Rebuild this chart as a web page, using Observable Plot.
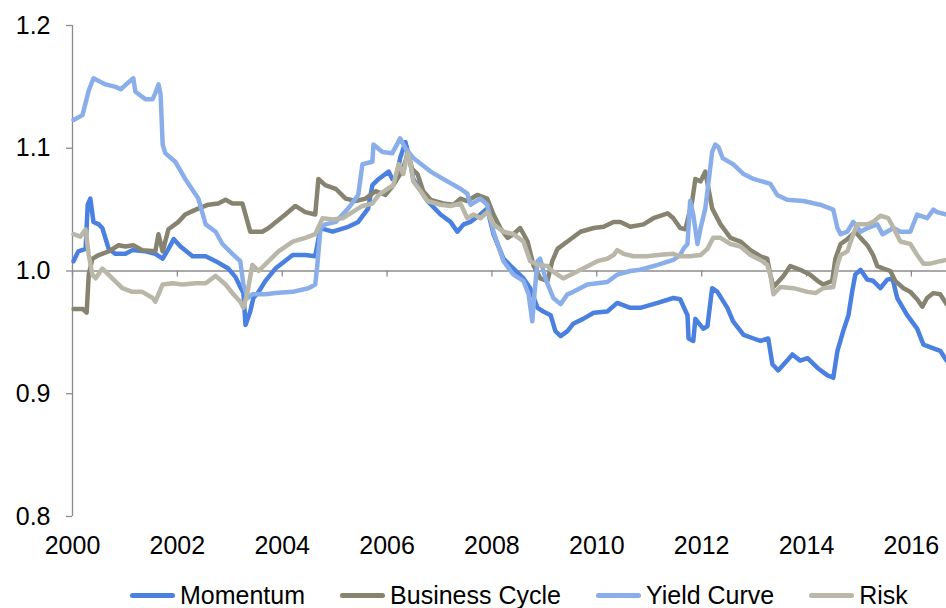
<!DOCTYPE html>
<html><head><meta charset="utf-8">
<script src="https://cdn.jsdelivr.net/npm/d3@7"></script>
<script src="https://cdn.jsdelivr.net/npm/@observablehq/plot@0.6"></script>
<style>
body{margin:0;background:#fff;font-family:"Liberation Sans",Arial,sans-serif;}
#legend{display:flex;align-items:center;height:36px;padding-left:130px;font-size:25px;color:#000;padding-top:5px;box-sizing:content-box}
.item{display:flex;align-items:center;margin-right:35px}
.sw{width:45px;height:5px;border-radius:3px;margin-right:5px}
</style></head><body><div id="chart"></div><div id="legend"></div>
<script>
const seriesNames = ["Momentum", "Business Cycle", "Yield Curve", "Risk"];
const seriesColors = ["#4a80e0", "#868470", "#8aaeea", "#b9b7a7"];
const xTicks = [2000, 2002, 2004, 2006, 2008, 2010, 2012, 2014, 2016];
const yTicks = [0.8, 0.9, 1.0, 1.1, 1.2];

const momentum = [[2000.02,1.008],[2000.11,1.016],[2000.25,1.018],[2000.29,1.054],[2000.34,1.059],[2000.40,1.040],[2000.50,1.038],[2000.57,1.035],[2000.69,1.018],[2000.82,1.014],[2001.01,1.014],[2001.14,1.017],[2001.39,1.016],[2001.58,1.014],[2001.72,1.010],[2001.83,1.018],[2001.93,1.026],[2002.06,1.020],[2002.29,1.012],[2002.54,1.012],[2002.73,1.008],[2002.97,1.002],[2003.11,0.995],[2003.20,0.987],[2003.26,0.982],[2003.30,0.956],[2003.39,0.967],[2003.45,0.978],[2003.55,0.983],[2003.68,0.992],[2003.87,1.002],[2004.20,1.013],[2004.44,1.013],[2004.63,1.012],[2004.73,1.035],[2004.96,1.032],[2005.26,1.036],[2005.45,1.040],[2005.64,1.051],[2005.72,1.070],[2005.84,1.075],[2006.03,1.081],[2006.10,1.075],[2006.16,1.073],[2006.25,1.092],[2006.35,1.105],[2006.41,1.095],[2006.50,1.075],[2006.77,1.057],[2007.02,1.046],[2007.21,1.040],[2007.34,1.032],[2007.46,1.038],[2007.59,1.040],[2007.78,1.046],[2007.91,1.051],[2008.03,1.030],[2008.22,1.010],[2008.41,1.002],[2008.60,0.994],[2008.73,0.986],[2008.87,0.970],[2008.98,0.967],[2009.12,0.964],[2009.21,0.951],[2009.31,0.947],[2009.44,0.951],[2009.55,0.957],[2009.74,0.961],[2009.94,0.966],[2010.20,0.967],[2010.39,0.974],[2010.64,0.970],[2010.83,0.970],[2011.16,0.974],[2011.46,0.978],[2011.59,0.977],[2011.73,0.964],[2011.75,0.945],[2011.84,0.943],[2011.88,0.961],[2012.03,0.953],[2012.11,0.955],[2012.20,0.986],[2012.30,0.983],[2012.49,0.970],[2012.60,0.959],[2012.80,0.948],[2012.99,0.945],[2013.12,0.943],[2013.27,0.945],[2013.35,0.924],[2013.46,0.919],[2013.63,0.927],[2013.73,0.932],[2013.88,0.927],[2014.02,0.929],[2014.21,0.921],[2014.40,0.915],[2014.51,0.913],[2014.59,0.935],[2014.70,0.951],[2014.80,0.964],[2014.87,0.983],[2014.93,0.997],[2015.03,1.001],[2015.16,0.993],[2015.27,0.992],[2015.41,0.986],[2015.54,0.993],[2015.64,0.994],[2015.73,0.978],[2015.92,0.964],[2016.11,0.953],[2016.23,0.940],[2016.42,0.937],[2016.55,0.935],[2016.67,0.927]];

const businessCycle = [[2000.02,0.969],[2000.20,0.969],[2000.27,0.966],[2000.31,0.997],[2000.38,1.010],[2000.50,1.013],[2000.69,1.016],[2000.88,1.021],[2001.01,1.020],[2001.16,1.021],[2001.33,1.017],[2001.58,1.016],[2001.64,1.030],[2001.72,1.016],[2001.83,1.034],[2002.02,1.040],[2002.15,1.046],[2002.35,1.050],[2002.59,1.054],[2002.78,1.055],[2002.92,1.058],[2003.05,1.055],[2003.24,1.055],[2003.30,1.046],[2003.39,1.032],[2003.62,1.032],[2003.74,1.035],[2004.06,1.046],[2004.25,1.053],[2004.44,1.048],[2004.63,1.046],[2004.69,1.075],[2004.82,1.070],[2005.02,1.067],[2005.21,1.059],[2005.40,1.057],[2005.59,1.059],[2005.78,1.065],[2005.97,1.062],[2006.12,1.070],[2006.25,1.079],[2006.35,1.089],[2006.39,1.097],[2006.48,1.083],[2006.58,1.079],[2006.69,1.065],[2006.83,1.058],[2007.07,1.055],[2007.27,1.054],[2007.40,1.059],[2007.53,1.057],[2007.72,1.062],[2007.91,1.059],[2008.03,1.046],[2008.16,1.035],[2008.30,1.027],[2008.41,1.030],[2008.54,1.035],[2008.68,1.024],[2008.79,1.005],[2008.92,0.994],[2009.06,0.992],[2009.15,1.008],[2009.25,1.018],[2009.44,1.024],[2009.69,1.032],[2009.94,1.035],[2010.13,1.036],[2010.32,1.040],[2010.45,1.040],[2010.64,1.036],[2010.89,1.038],[2011.08,1.043],[2011.35,1.047],[2011.46,1.043],[2011.59,1.035],[2011.69,1.034],[2011.82,1.057],[2011.88,1.075],[2011.98,1.073],[2012.07,1.081],[2012.13,1.067],[2012.20,1.051],[2012.36,1.038],[2012.55,1.027],[2012.74,1.024],[2012.93,1.017],[2013.12,1.012],[2013.25,1.010],[2013.31,0.997],[2013.37,0.987],[2013.56,0.996],[2013.69,1.004],[2013.88,1.001],[2014.07,0.997],[2014.21,0.992],[2014.32,0.989],[2014.49,0.992],[2014.55,1.010],[2014.65,1.022],[2014.78,1.026],[2014.93,1.032],[2015.03,1.027],[2015.16,1.021],[2015.27,1.013],[2015.35,1.004],[2015.47,1.002],[2015.60,1.000],[2015.69,0.992],[2015.85,0.986],[2015.98,0.983],[2016.11,0.977],[2016.21,0.971],[2016.30,0.978],[2016.42,0.982],[2016.55,0.981],[2016.67,0.973]];

const yieldCurve = [[2000.02,1.123],[2000.19,1.127],[2000.31,1.147],[2000.40,1.157],[2000.63,1.152],[2000.82,1.150],[2000.92,1.148],[2001.05,1.153],[2001.16,1.157],[2001.20,1.146],[2001.39,1.140],[2001.53,1.140],[2001.58,1.145],[2001.64,1.152],[2001.68,1.144],[2001.72,1.103],[2001.77,1.096],[2001.96,1.089],[2002.15,1.075],[2002.40,1.059],[2002.54,1.038],[2002.73,1.032],[2002.86,1.022],[2003.05,1.014],[2003.20,1.008],[2003.26,0.989],[2003.34,0.978],[2003.43,0.981],[2003.68,0.981],[2003.87,0.982],[2004.20,0.983],[2004.50,0.986],[2004.63,0.989],[2004.67,1.005],[2004.73,1.035],[2004.82,1.038],[2005.02,1.040],[2005.26,1.051],[2005.45,1.062],[2005.53,1.087],[2005.72,1.089],[2005.74,1.103],[2005.91,1.097],[2006.10,1.096],[2006.25,1.108],[2006.35,1.100],[2006.50,1.092],[2006.83,1.081],[2007.15,1.073],[2007.40,1.067],[2007.53,1.063],[2007.59,1.054],[2007.78,1.059],[2007.91,1.054],[2008.03,1.032],[2008.22,1.008],[2008.41,0.997],[2008.60,0.992],[2008.70,0.981],[2008.77,0.959],[2008.81,0.981],[2008.87,1.008],[2008.92,1.010],[2009.02,0.994],[2009.17,0.978],[2009.31,0.973],[2009.44,0.981],[2009.55,0.983],[2009.82,0.989],[2010.20,0.991],[2010.39,0.997],[2010.64,1.000],[2010.83,1.001],[2011.16,1.005],[2011.46,1.009],[2011.59,1.013],[2011.65,1.018],[2011.73,1.022],[2011.78,1.057],[2011.84,1.046],[2011.92,1.022],[2011.98,1.035],[2012.07,1.051],[2012.20,1.097],[2012.26,1.103],[2012.32,1.101],[2012.40,1.092],[2012.60,1.087],[2012.80,1.079],[2012.99,1.075],[2013.31,1.071],[2013.44,1.062],[2013.63,1.058],[2013.94,1.057],[2014.26,1.054],[2014.51,1.050],[2014.59,1.035],[2014.65,1.030],[2014.78,1.032],[2014.89,1.040],[2015.03,1.032],[2015.16,1.035],[2015.35,1.038],[2015.45,1.030],[2015.66,1.035],[2015.79,1.032],[2015.98,1.032],[2016.11,1.046],[2016.30,1.043],[2016.42,1.050],[2016.49,1.048],[2016.67,1.046]];

const risk = [[2000.02,1.030],[2000.15,1.028],[2000.25,1.034],[2000.31,1.013],[2000.38,0.997],[2000.44,0.994],[2000.57,1.002],[2000.76,0.994],[2000.95,0.986],[2001.14,0.983],[2001.33,0.983],[2001.53,0.978],[2001.58,0.975],[2001.72,0.989],[2001.91,0.990],[2002.10,0.989],[2002.35,0.990],[2002.54,0.990],[2002.73,0.996],[2002.92,0.989],[2003.07,0.981],[2003.20,0.975],[2003.26,0.970],[2003.34,0.983],[2003.43,1.005],[2003.55,1.000],[2003.74,1.008],[2003.93,1.016],[2004.20,1.024],[2004.44,1.027],[2004.63,1.030],[2004.77,1.043],[2004.96,1.042],[2005.15,1.043],[2005.34,1.048],[2005.53,1.053],[2005.72,1.055],[2005.84,1.062],[2006.01,1.067],[2006.12,1.070],[2006.22,1.087],[2006.31,1.079],[2006.39,1.096],[2006.45,1.087],[2006.50,1.073],[2006.64,1.065],[2006.77,1.057],[2007.02,1.054],[2007.21,1.053],[2007.40,1.055],[2007.53,1.043],[2007.65,1.046],[2007.78,1.043],[2007.91,1.048],[2008.03,1.038],[2008.22,1.032],[2008.41,1.030],[2008.60,1.024],[2008.73,1.008],[2008.87,1.005],[2009.06,1.004],[2009.12,1.001],[2009.25,0.997],[2009.36,0.994],[2009.55,0.998],[2009.74,1.002],[2010.01,1.008],[2010.20,1.010],[2010.32,1.013],[2010.39,1.017],[2010.51,1.014],[2010.70,1.012],[2010.96,1.012],[2011.16,1.013],[2011.46,1.014],[2011.59,1.012],[2011.78,1.012],[2011.98,1.013],[2012.11,1.018],[2012.22,1.027],[2012.36,1.027],[2012.55,1.022],[2012.74,1.020],[2012.93,1.013],[2013.12,1.009],[2013.25,1.005],[2013.31,0.997],[2013.37,0.981],[2013.50,0.987],[2013.75,0.986],[2014.02,0.983],[2014.17,0.982],[2014.32,0.986],[2014.51,0.987],[2014.59,1.005],[2014.65,1.013],[2014.78,1.016],[2014.89,1.030],[2014.97,1.038],[2015.16,1.038],[2015.27,1.040],[2015.41,1.045],[2015.56,1.043],[2015.66,1.035],[2015.79,1.024],[2015.98,1.022],[2016.11,1.013],[2016.23,1.006],[2016.36,1.006],[2016.55,1.008],[2016.67,1.009]];

const seriesData = [momentum, businessCycle, yieldCurve, risk];
const rows = seriesData.flatMap((s, i) => s.map(([year, value]) => ({series: seriesNames[i], year, value})));

const W = 946, H = 572, mT = 25, mB = 56, mL = 72, mR = 0;
const yMin = 0.8, yMax = 1.2;
const tickLen = 6 * (yMax - yMin) / (H - mT - mB);
const axisGrey = "#8c8c8c";

const chart = Plot.plot({
  width: W, height: H,
  marginTop: mT, marginBottom: mB, marginLeft: mL, marginRight: mR,
  style: {fontFamily: "'Liberation Sans', Arial, sans-serif", fontSize: "25px", color: "#000", background: "#fff", overflow: "visible"},
  x: {type: "linear", domain: [2000, 2016.67], label: null},
  y: {domain: [yMin, yMax], label: null},
  color: {domain: seriesNames, range: seriesColors},
  marks: [
    Plot.ruleY([1], {stroke: axisGrey, strokeWidth: 1.3}),
    Plot.ruleX(xTicks, {x: d => d, y1: 1, y2: 1 - tickLen, stroke: axisGrey, strokeWidth: 1.3}),
    Plot.ruleX([2000], {stroke: axisGrey, strokeWidth: 1.3}),
    Plot.axisY({ticks: yTicks, tickFormat: d => d.toFixed(1), tickSize: 6, tickPadding: 16, stroke: axisGrey, strokeWidth: 1.3, fontSize: 25, label: null}),
    Plot.axisX({ticks: xTicks, tickFormat: d => String(d), tickSize: 0, tickPadding: 20, fontSize: 25, label: null}),
    Plot.line(rows, {x: "year", y: "value", z: "series", stroke: "series", strokeWidth: 4.5, strokeLinejoin: "round", strokeLinecap: "round"})
  ]
});
document.getElementById("chart").appendChild(chart);

const legend = document.getElementById("legend");
seriesNames.forEach((name, i) => {
  const item = document.createElement("div");
  item.className = "item";
  const sw = document.createElement("span");
  sw.className = "sw";
  sw.style.background = seriesColors[i];
  const t = document.createElement("span");
  t.textContent = name;
  item.appendChild(sw); item.appendChild(t);
  legend.appendChild(item);
});
</script></body></html>
